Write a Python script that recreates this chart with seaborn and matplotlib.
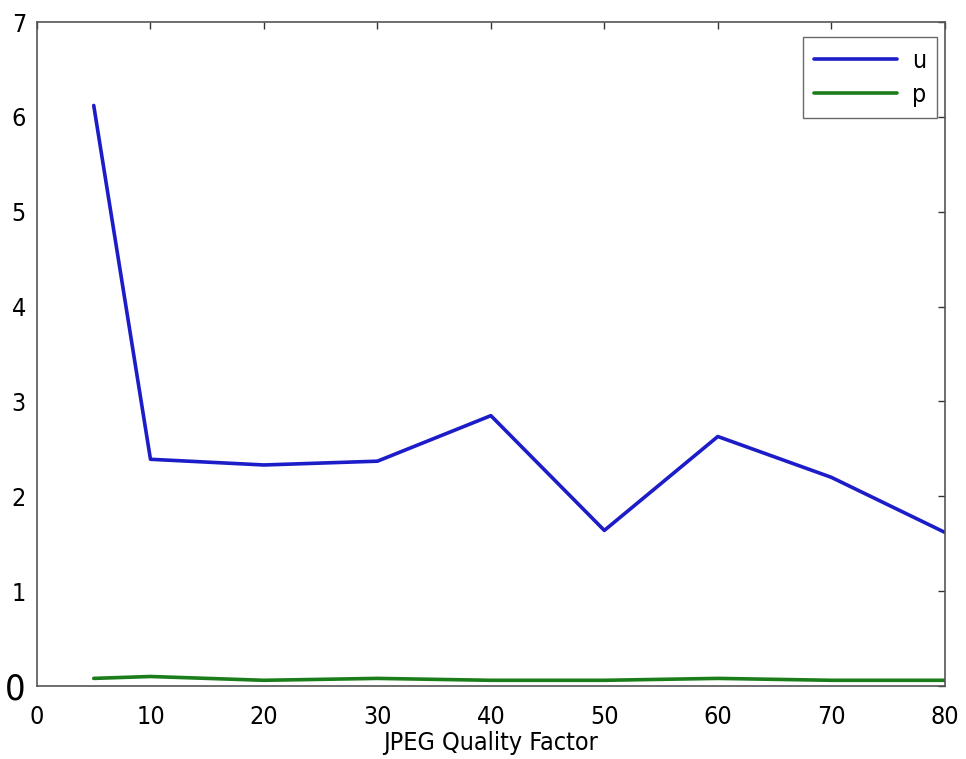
import numpy as np
import pandas as pd
import matplotlib.pyplot as plt
import seaborn as sns

# -------------------- DATA --------------------
quality = [5, 10, 20, 30, 40, 50, 60, 70, 80]
u_vals = [6.12, 2.39, 2.33, 2.37, 2.85, 1.64, 2.63, 2.20, 1.62]
p_vals = [0.08, 0.10, 0.06, 0.08, 0.06, 0.06, 0.08, 0.06, 0.06]
series_names = ["u", "p"]
series_colors = ["#1c1cc8", "#1a7d1a"]
x_ticks = [0, 10, 20, 30, 40, 50, 60, 70, 80]
y_ticks = [0, 1, 2, 3, 4, 5, 6, 7]

df = pd.DataFrame(
    {
        "JPEG Quality Factor": quality * 2,
        "value": u_vals + p_vals,
        "series": ["u"] * len(u_vals) + ["p"] * len(p_vals),
    }
)

# -------------------- STYLE --------------------
sns.set_style("white")
plt.rcParams["font.family"] = ["DejaVu Sans"]
plt.rcParams["font.stretch"] = "condensed"
plt.rcParams["xtick.direction"] = "in"
plt.rcParams["ytick.direction"] = "in"
plt.rcParams["text.color"] = "black"
plt.rcParams["axes.labelcolor"] = "black"
plt.rcParams["xtick.labelcolor"] = "black"
plt.rcParams["ytick.labelcolor"] = "black"

fig = plt.figure(figsize=(9.66, 7.59), dpi=100)
ax = fig.add_axes([0.0383, 0.0962, 0.978 - 0.0383, 0.971 - 0.0962])

sns.lineplot(
    data=df,
    x="JPEG Quality Factor",
    y="value",
    hue="series",
    hue_order=series_names,
    palette=series_colors,
    linewidth=2.6,
    ax=ax,
)

ax.set_xlim(0, 80)
ax.set_ylim(0, 7)
ax.set_xticks(x_ticks)
ax.set_yticks(y_ticks)
ax.tick_params(
    axis="both",
    which="both",
    direction="in",
    top=True,
    right=True,
    length=5,
    width=1,
    color="#333333",
    labelsize=18,
)
ax.tick_params(axis="x", pad=14)
ax.tick_params(axis="y", pad=8)
# the bottom-left zero on the y axis is drawn bigger in the original
ax.get_yticklabels()[0].set_fontsize(26)
ax.set_xlabel("JPEG Quality Factor", fontsize=18, labelpad=1)
ax.set_ylabel("")

for sp in ax.spines.values():
    sp.set_color("#555555")
    sp.set_linewidth(1.2)

leg = ax.legend(
    loc="upper right",
    bbox_to_anchor=(0.992, 0.977),
    borderaxespad=0,
    fontsize=18,
    frameon=True,
    fancybox=False,
    edgecolor="#444444",
    handlelength=3.3,
    handletextpad=0.6,
    borderpad=0.45,
    labelspacing=0.4,
)
leg.get_frame().set_linewidth(1.0)
for line in leg.get_lines():
    line.set_linewidth(2.6)

plt.savefig("out.png", dpi=100)
plt.close()
